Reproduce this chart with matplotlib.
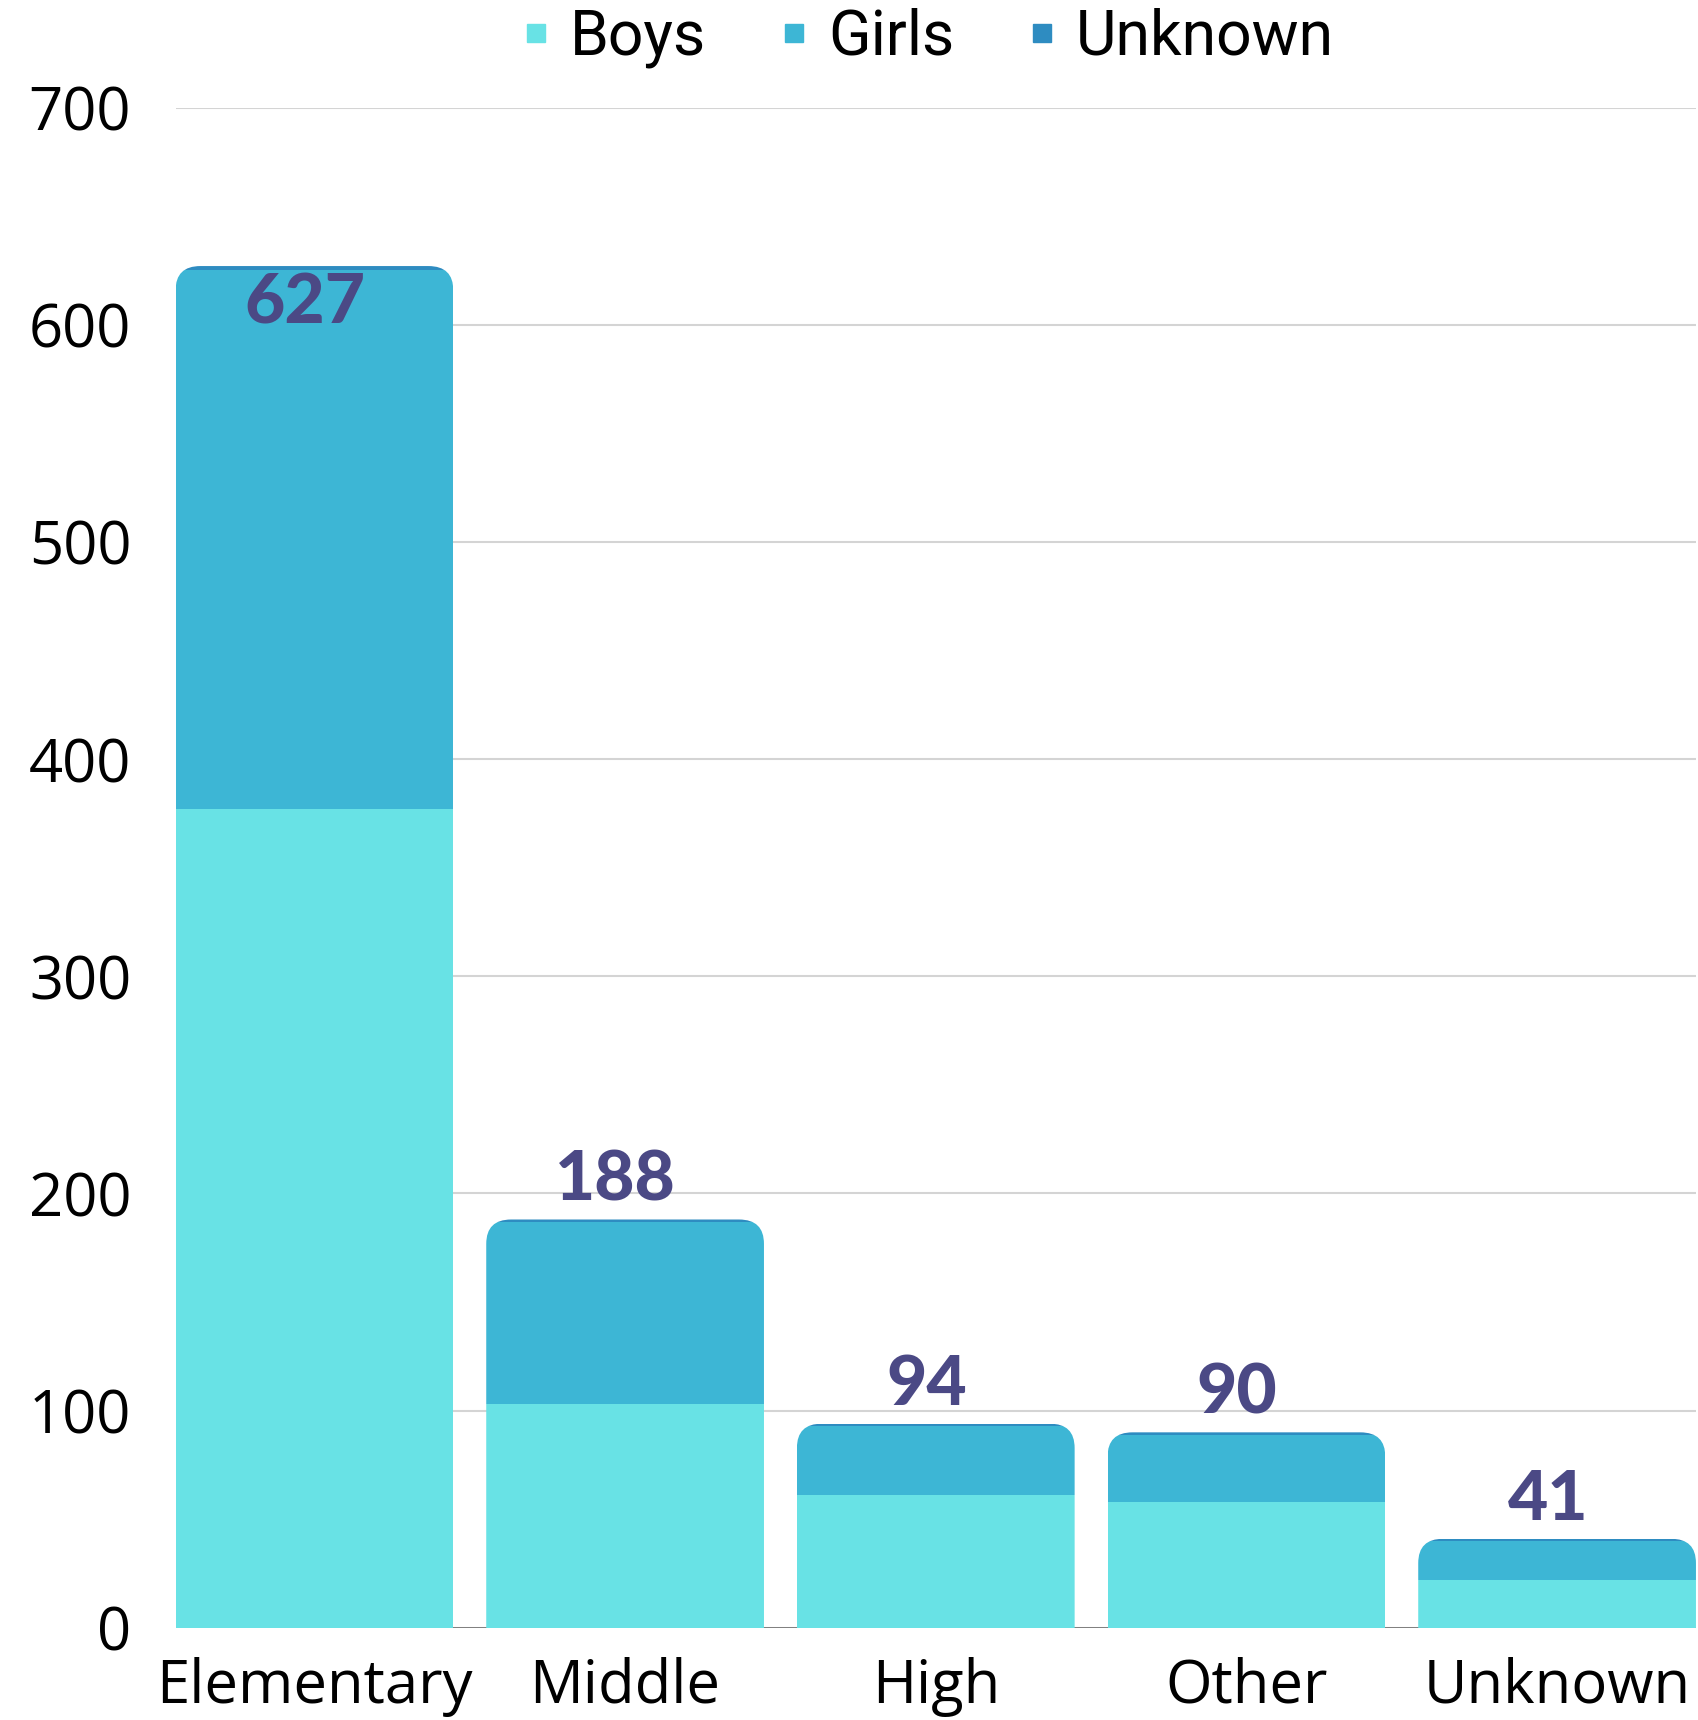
import matplotlib
matplotlib.use("Agg")
import matplotlib.pyplot as plt
from matplotlib.patches import FancyBboxPatch
from matplotlib.lines import Line2D
import numpy as np

categories = ["Elementary", "Middle", "High", "Other", "Unknown"]
boys = [377, 103, 61, 58, 22]
girls = [248, 84, 32, 31, 18]
unknown = [2, 1, 1, 1, 1]
totals = [627, 188, 94, 90, 41]
series_names = ["Boys", "Girls", "Unknown"]
yticks = [0, 100, 200, 300, 400, 500, 600, 700]

colors = ["#68E2E5", "#3DB6D5", "#2E8CC1"]
label_color = "#4B4985"
tick_font = "Open Sans"

fig = plt.figure(figsize=(16.98, 17.2), dpi=100)
ax = fig.add_axes([0.1034, 0.0536, 0.8954, 0.8839])

x = np.arange(len(categories))
width = 0.894
b1 = ax.bar(x, boys, width, color=colors[0], zorder=2)
b2 = ax.bar(x, girls, width, bottom=boys, color=colors[1], zorder=2)
bottom2 = np.array(boys) + np.array(girls)
b3 = ax.bar(x, unknown, width, bottom=bottom2, color=colors[2], zorder=2)

ax.set_xlim(-0.447, len(categories) - 1 + 0.447)
ax.set_ylim(0, 700)

# rounded top corners via clip paths
for i in range(len(categories)):
    clip = FancyBboxPatch((x[i] - width / 2, -40), width, totals[i] + 40,
                          boxstyle="round,pad=0,rounding_size=0.08",
                          mutation_aspect=140, transform=ax.transData)
    for bars in (b1, b2, b3):
        bars[i].set_clip_path(clip)

for i, t in enumerate(totals):
    if t > 600:
        ax.text(x[i] - 0.03, t - 3, str(t), ha="center", va="top",
                fontsize=50, fontweight=900, color=label_color,
                family="Lato", zorder=3)
    else:
        ax.text(x[i] - 0.03, t + 3, str(t), ha="center", va="bottom",
                fontsize=50, fontweight=900, color=label_color,
                family="Lato", zorder=3)

ax.set_yticks(yticks)
ax.set_yticklabels([str(v) for v in yticks], fontsize=43, family=tick_font)
ax.set_xticks(x)
ax.set_xticklabels(categories, fontsize=43, family=tick_font)
ax.tick_params(axis="y", length=0, pad=32)
ax.tick_params(axis="x", length=0, pad=21)
ax.grid(axis="y", color="#d4d4d4", linewidth=1.5, zorder=0)
ax.set_axisbelow(True)
for s in ax.spines.values():
    s.set_visible(False)
ax.axhline(0, color="#777777", linewidth=2, zorder=1)

handles = [Line2D([], [], marker="s", linestyle="none", markersize=13,
                  markerfacecolor=c, markeredgecolor=c) for c in colors]
fig.legend(handles, series_names, loc="center", bbox_to_anchor=(0.546, 0.978),
           ncol=3, frameon=False, prop={"family": "Roboto", "size": 45},
           handlelength=0.5, handletextpad=0.3, columnspacing=1.15)

fig.savefig("out.png", dpi=100, facecolor="white")
